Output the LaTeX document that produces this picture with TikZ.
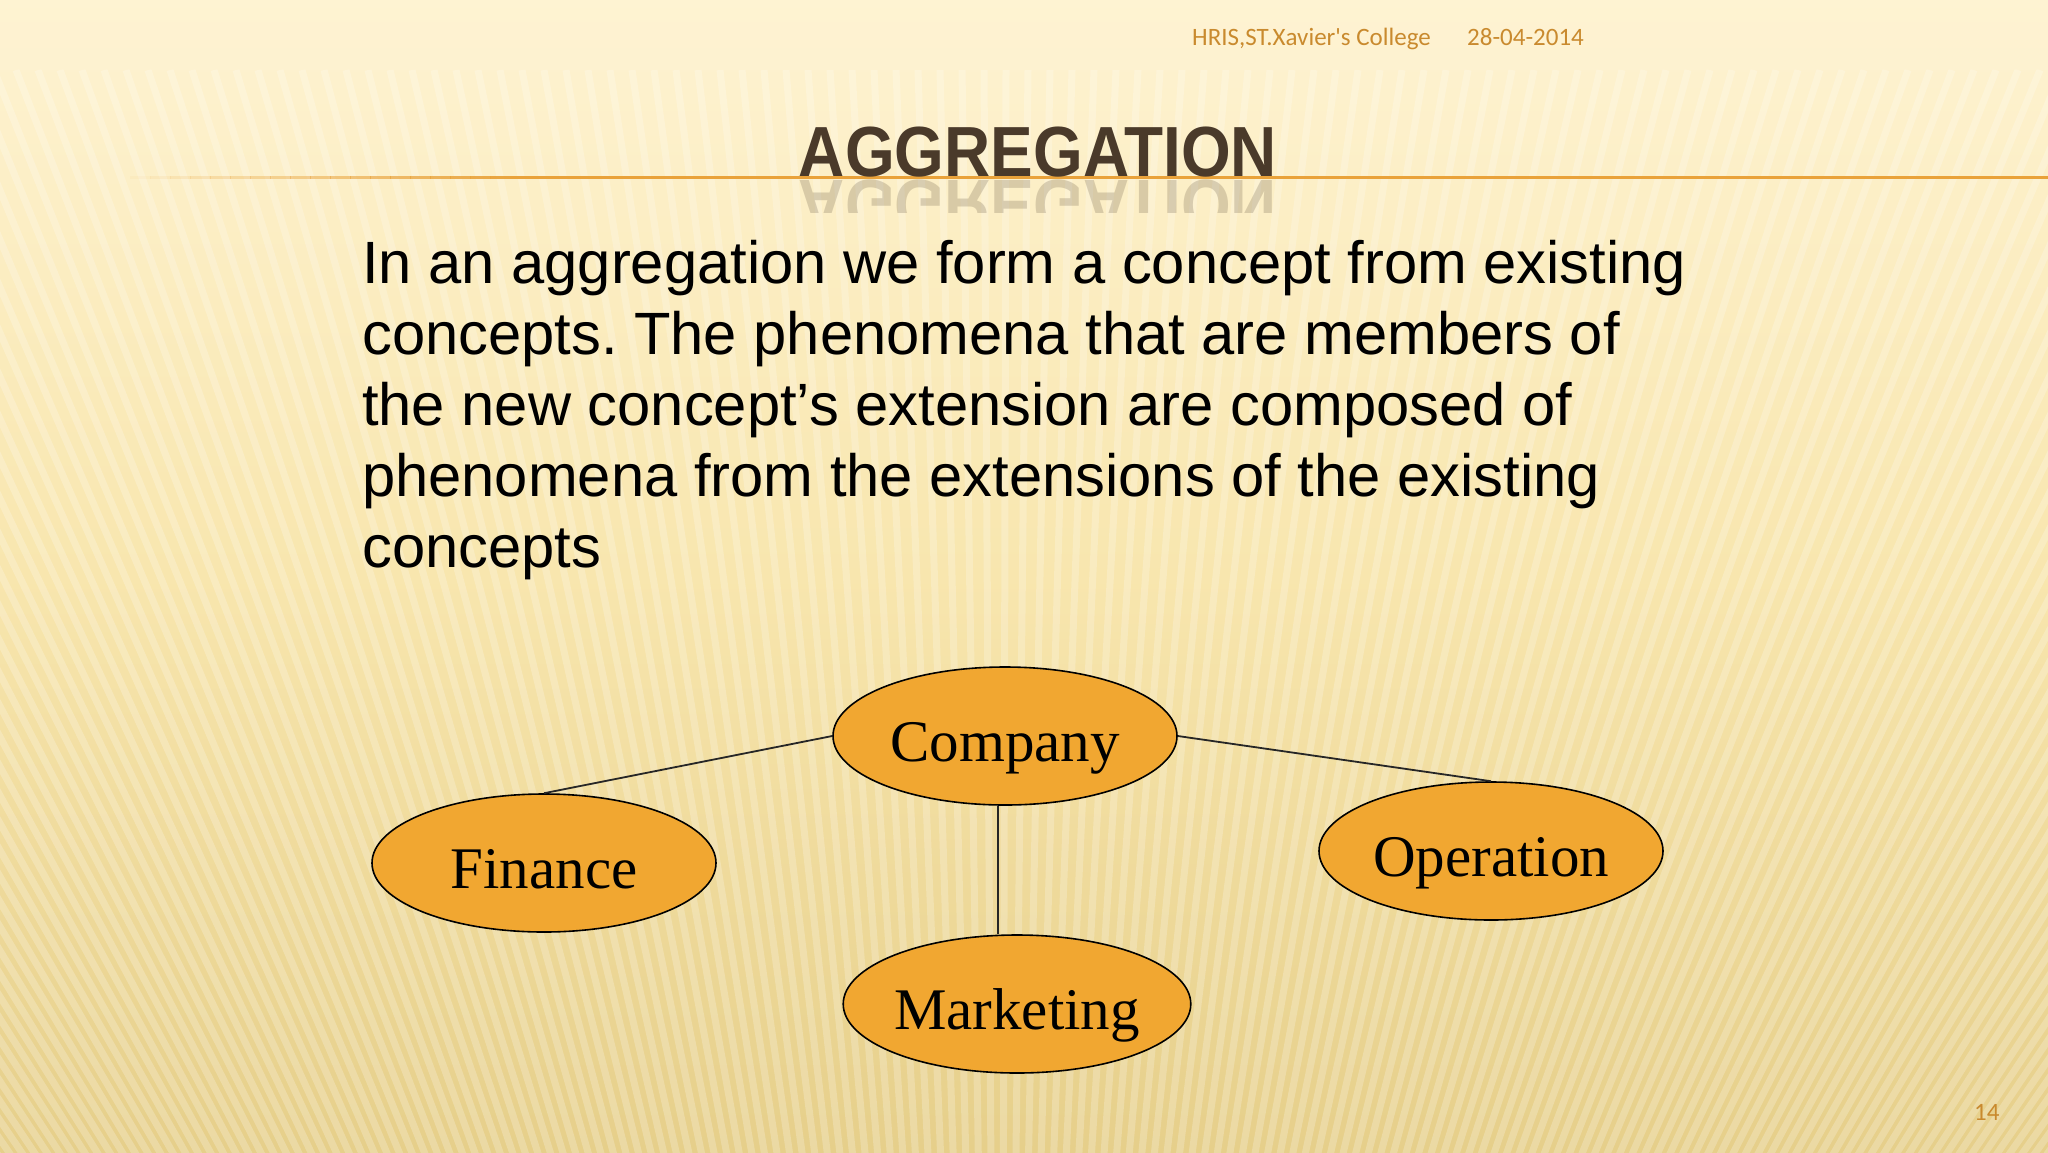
\documentclass[tikz,border=0pt]{standalone}
\usepackage{fontspec}
\setmainfont{Liberation Sans}
\newfontfamily\serifent{Liberation Serif}
\newfontfamily\calfont{Carlito}
\usetikzlibrary{shapes.geometric}
\definecolor{bgtop}{HTML}{FEF3D2}
\definecolor{bgmid}{HTML}{F8E6AE}
\definecolor{bgbot}{HTML}{E6CF8A}
\definecolor{rulecol}{HTML}{E9A23A}
\definecolor{titlecol}{HTML}{4A3A2A}
\definecolor{hdrcol}{HTML}{C98A2E}
\definecolor{entfill}{HTML}{F1A731}
\tikzset{
  ent/.style={ellipse, draw=black, line width=1.6pt, fill=entfill,
    minimum width=344pt, minimum height=138pt, inner sep=0pt,
    text height=50pt, text depth=0pt,
    font=\serifent\fontsize{59}{59}\selectfont},
  conn/.style={draw=black!85, line width=1.8pt},
  bodyline/.style={anchor=base west, inner sep=0pt, font=\fontsize{59.7}{71}\selectfont},
  hdr/.style={anchor=base west, inner sep=0pt, text=hdrcol, font=\calfont\fontsize{25}{25}\selectfont}
}
\frenchspacing
\begin{document}
\begin{tikzpicture}[x=1pt,y=-1pt]
\useasboundingbox (0,0) rectangle (2048,1152);
% background
\shade[top color=bgtop, bottom color=bgbot, middle color=bgmid] (0,0) rectangle (2048,1152);
\begin{scope}
\clip (0,0) rectangle (2048,1152);
\foreach \i in {0,...,250} {
  \pgfmathsetmacro{\xx}{-1700+22*\i}
  \draw[white, opacity=0.22, line width=7pt] (\xx,70) -- (1000,2600);
}
\fill[bgtop, opacity=0.6] (0,0) rectangle (2048,70);
\end{scope}
% header
\node[hdr] (h1) at (1192,45) {HRIS,ST.Xavier's College};
\node[hdr] (h2) at (1467,45) {28-04-2014};
\node[hdr] (pg) at (1974,1120) {14};
% rule
\foreach \k in {0,...,19} {
  \pgfmathsetmacro{\xa}{130+20*\k}
  \pgfmathsetmacro{\op}{(\k+1)/20}
  \fill[rulecol, opacity=\op] (\xa,175.5) rectangle ({\xa+20.5},178.5);
}
\fill[rulecol] (530,175.5) rectangle (2048,178.5);
% title and reflection
\node[anchor=base, inner sep=0pt, text=titlecol, font=\bfseries\fontsize{71}{71}\selectfont] (title) at (1038,176) {\scalebox{0.9}[1]{AGGREGATION}};
\begin{scope}
\clip (600,179) rectangle (1500,212);
\node[anchor=base, inner sep=0pt, text=titlecol, opacity=0.2, font=\bfseries\fontsize{71}{71}\selectfont] (refl) at (1038,180) {\scalebox{0.9}[-1]{AGGREGATION}};
\end{scope}
% body text
\node[bodyline] (l1) at (362,283) {In an aggregation we form a concept from existing};
\node[bodyline] (l2) at (362,354) {concepts. The phenomena that are members of};
\node[bodyline] (l3) at (362,425) {the new concept’s extension are composed of};
\node[bodyline] (l4) at (362,496) {phenomena from the extensions of the existing};
\node[bodyline] (l5) at (362,567) {concepts};
% diagram
\node[ent] (co) at (1005,736) {Company};
\node[ent] (fi) at (544,863) {Finance};
\node[ent] (op) at (1491,851) {Operation};
\node[ent] (mk) at (1017,1004) {Marketing};
\draw[conn] (co.west) -- (fi.north);
\draw[conn] (co.east) -- (op.north);
\draw[conn] ([xshift=-7pt]co.south) -- ([xshift=-19pt]mk.north);
\end{tikzpicture}
\end{document}
